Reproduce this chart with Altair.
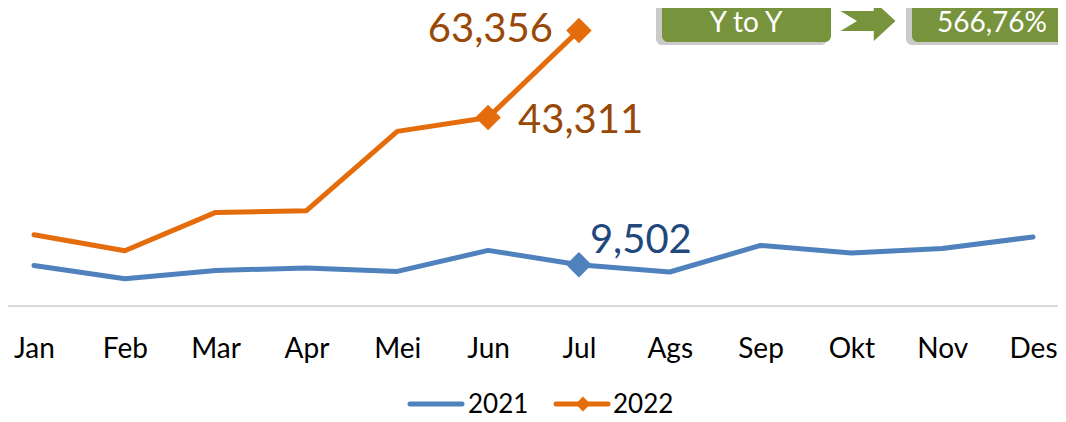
import altair as alt
import pandas as pd

months = ["Jan", "Feb", "Mar", "Apr", "Mei", "Jun", "Jul", "Ags", "Sep", "Okt", "Nov", "Des"]
v2021 = [9330, 6280, 8180, 8740, 7950, 12780, 9502, 7820, 13930, 12180, 13240, 15860]
v2022 = [16390, 12710, 21520, 21910, 40140, 43311, 63356]

lab_year = ["2022", "2022", "2021"]
lab_month = ["Jul", "Jun", "Jul"]
lab_value = [63356, 43311, 9502]
lab_text = ["63,356", "43,311", "9,502"]

box_texts = ["Y to Y", "566,76%"]
legend_years = ["2021", "2022"]

BLUE = "#4F81BD"
ORANGE = "#E46C0A"
GREEN = "#77933C"
FONT = "Lato"

rows = [{"month": m, "value": v, "year": "2021"} for m, v in zip(months, v2021)]
rows += [{"month": m, "value": v, "year": "2022"} for m, v in zip(months, v2022)]
df = pd.DataFrame(rows)

lab = pd.DataFrame({"year": lab_year, "month": lab_month, "value": lab_value, "text": lab_text})
one = pd.DataFrame({"k": [0]})

xs = alt.Scale(type="point", domain=months, range=[26, 1025], padding=0)
ys = alt.Scale(domain=[0, 68500], nice=False, zero=True)
cs = alt.Scale(domain=legend_years, range=[BLUE, ORANGE])

x_axis = alt.Axis(title=None, ticks=False, tickSize=0, grid=False, labelAngle=0,
                  labelFont=FONT, labelFontSize=28, labelColor="#000000",
                  labelPadding=51, labelBaseline="alphabetic", domain=False)
X = alt.X("month:O", scale=xs, sort=months, axis=x_axis)
Y = alt.Y("value:Q", scale=ys, axis=None)

baseline_rule = alt.Chart(one).mark_rule(color="#D9D9D9", strokeWidth=2).encode(
    x=alt.value(-10), x2=alt.value(1060), y=alt.value(298))

lines = alt.Chart(df).mark_line(strokeWidth=5, strokeCap="round", strokeJoin="round").encode(
    x=X, y=Y, color=alt.Color("year:N", scale=cs, legend=None),
    order=alt.Order("month_idx:Q")
).transform_calculate(month_idx="indexof(%s, datum.month)" % str(months))

diamonds = alt.Chart(lab).mark_point(shape="diamond", filled=True, opacity=1, size=650).encode(
    x=X, y=Y, color=alt.Color("year:N", scale=cs, legend=None)
)

def label(i, color, align, dx, dy):
    return alt.Chart(lab.iloc[[i]]).mark_text(
        font=FONT, fontSize=40, color=color, align=align, baseline="alphabetic", dx=dx, dy=dy
    ).encode(x=X, y=Y, text="text:N")

l1 = label(0, "#984807", "right", -26, 12)
l2 = label(1, "#984807", "left", 30, 15)
l3 = label(2, "#1F497D", "left", 11, -12)

# Y to Y boxes
def rect(x1, x2, y1, y2, fill, opacity=1.0, r=6):
    return alt.Chart(one).mark_rect(fill=fill, opacity=opacity, cornerRadius=r).encode(
        x=alt.value(x1), x2=alt.value(x2), y=alt.value(y1), y2=alt.value(y2))

shadow1 = rect(648, 819, -10, 37, "#A6A6A6", 0.6)
box1 = rect(654, 823, -10, 34, GREEN)
shadow2 = rect(898, 1070, -10, 37, "#A6A6A6", 0.6)
box2 = rect(904, 1075, -10, 34, GREEN)

arrow_path = "M-1,-0.36 L0.21,-0.36 L0.21,-0.73 L1,0 L0.21,0.73 L0.21,0.36 L-1,0.36 L-0.4,0 Z"
arrow = alt.Chart(one).mark_point(shape=arrow_path, filled=True, fill=GREEN, opacity=1,
                                  size=3025, strokeWidth=0).encode(
    x=alt.value(860), y=alt.value(13))

t1 = alt.Chart(one).mark_text(text=box_texts[0], font=FONT, fontSize=28, color="white",
                              align="center", baseline="alphabetic").encode(
    x=alt.value(738), y=alt.value(24))
t2 = alt.Chart(one).mark_text(text=box_texts[1], font=FONT, fontSize=28, color="white",
                              align="left", baseline="alphabetic").encode(
    x=alt.value(929), y=alt.value(24))

# custom legend
lg1 = alt.Chart(one).mark_rule(color=BLUE, strokeWidth=5, strokeCap="round").encode(
    x=alt.value(402), x2=alt.value(454), y=alt.value(396))
lg2 = alt.Chart(one).mark_rule(color=ORANGE, strokeWidth=5, strokeCap="round").encode(
    x=alt.value(548), x2=alt.value(600), y=alt.value(396))
lgd = alt.Chart(one).mark_point(shape="diamond", filled=True, opacity=1, color=ORANGE, size=220).encode(
    x=alt.value(575), y=alt.value(396))
lt1 = alt.Chart(one).mark_text(text=legend_years[0], font=FONT, fontSize=26, color="#000000",
                               align="left", baseline="alphabetic").encode(
    x=alt.value(460), y=alt.value(405))
lt2 = alt.Chart(one).mark_text(text=legend_years[1], font=FONT, fontSize=26, color="#000000",
                               align="left", baseline="alphabetic").encode(
    x=alt.value(605), y=alt.value(405))

chart = alt.layer(
    baseline_rule, lines, diamonds, l1, l2, l3,
    shadow1, box1, shadow2, box2, arrow, t1, t2,
    lg1, lg2, lgd, lt1, lt2
).properties(
    width=1050, height=298, autosize="none",
    padding={"left": 0, "top": 0, "right": 0, "bottom": 108}
).configure_view(stroke=None)

chart.save("out.html", embed_options={"renderer": "svg", "actions": False})
